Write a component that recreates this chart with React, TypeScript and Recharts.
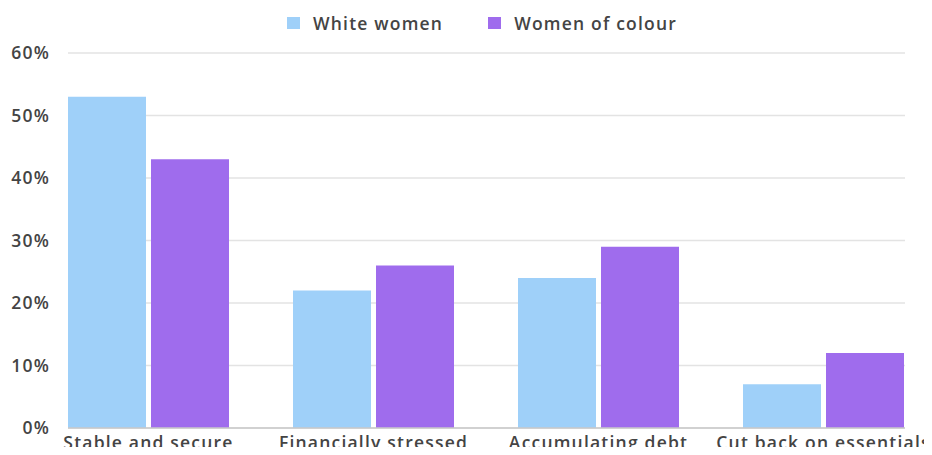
import { BarChart, Bar, XAxis, YAxis, CartesianGrid } from "recharts";

const categories = [
  "Stable and secure",
  "Financially stressed",
  "Accumulating debt",
  "Cut back on essentials",
];
const whiteWomen = [53, 22, 24, 7];
const womenOfColour = [43, 26, 29, 12];
const yTicks = [0, 10, 20, 30, 40, 50, 60];

const BLUE = "#9fd0f9";
const PURPLE = "#9f6ced";
const TEXT = "#444444";
const FONT = "'Open Sans', sans-serif";

const data = categories.map((name, i) => ({
  name,
  white: whiteWomen[i],
  colour: womenOfColour[i],
}));

const legendItems = [
  { label: "White women", color: BLUE },
  { label: "Women of colour", color: PURPLE },
];

const tickStyle = {
  fill: TEXT,
  fontSize: 17.5,
  fontFamily: FONT,
  fontWeight: 600,
  letterSpacing: 1.2,
};

export default function App() {
  return (
    <div style={{ margin: -8, position: "relative", width: 932, height: 455, overflow: "hidden" }}>
      {/* legend drawn on top so it doesn't push the plot down */}
      <div
        style={{
          position: "absolute",
          top: 11,
          left: 287,
          display: "flex",
          gap: 45,
          fontFamily: FONT,
          fontWeight: 600,
          fontSize: 17.5,
          letterSpacing: 1.2,
          color: TEXT,
          lineHeight: "24px",
        }}
      >
        {legendItems.map((it) => (
          <div key={it.label} style={{ display: "flex", alignItems: "center" }}>
            <span
              style={{
                width: 13,
                height: 12,
                background: it.color,
                display: "inline-block",
                marginRight: 13,
              }}
            />
            {it.label}
          </div>
        ))}
      </div>
      <BarChart
        width={932}
        height={475}
        data={data}
        margin={{ top: 53, right: 27, left: 0, bottom: 0 }}
        barSize={78}
        barGap={5}
      >
        <CartesianGrid stroke="#e3e3e3" strokeWidth={1.5} vertical={false} />
        <XAxis
          dataKey="name"
          height={47}
          padding={{ left: -32, right: -31 }}
          tickLine={false}
          axisLine={{ stroke: "#c8c8c8", strokeWidth: 1.5 }}
          tickMargin={3}
          interval={0}
          tick={tickStyle}
        />
        <YAxis
          width={68}
          domain={[0, 60]}
          ticks={yTicks}
          tickFormatter={(v) => `${v}%`}
          tickLine={false}
          axisLine={false}
          tickMargin={12}
          tick={tickStyle}
        />
        <Bar dataKey="white" name="White women" fill={BLUE} isAnimationActive={false} />
        <Bar dataKey="colour" name="Women of colour" fill={PURPLE} isAnimationActive={false} />
      </BarChart>
    </div>
  );
}
